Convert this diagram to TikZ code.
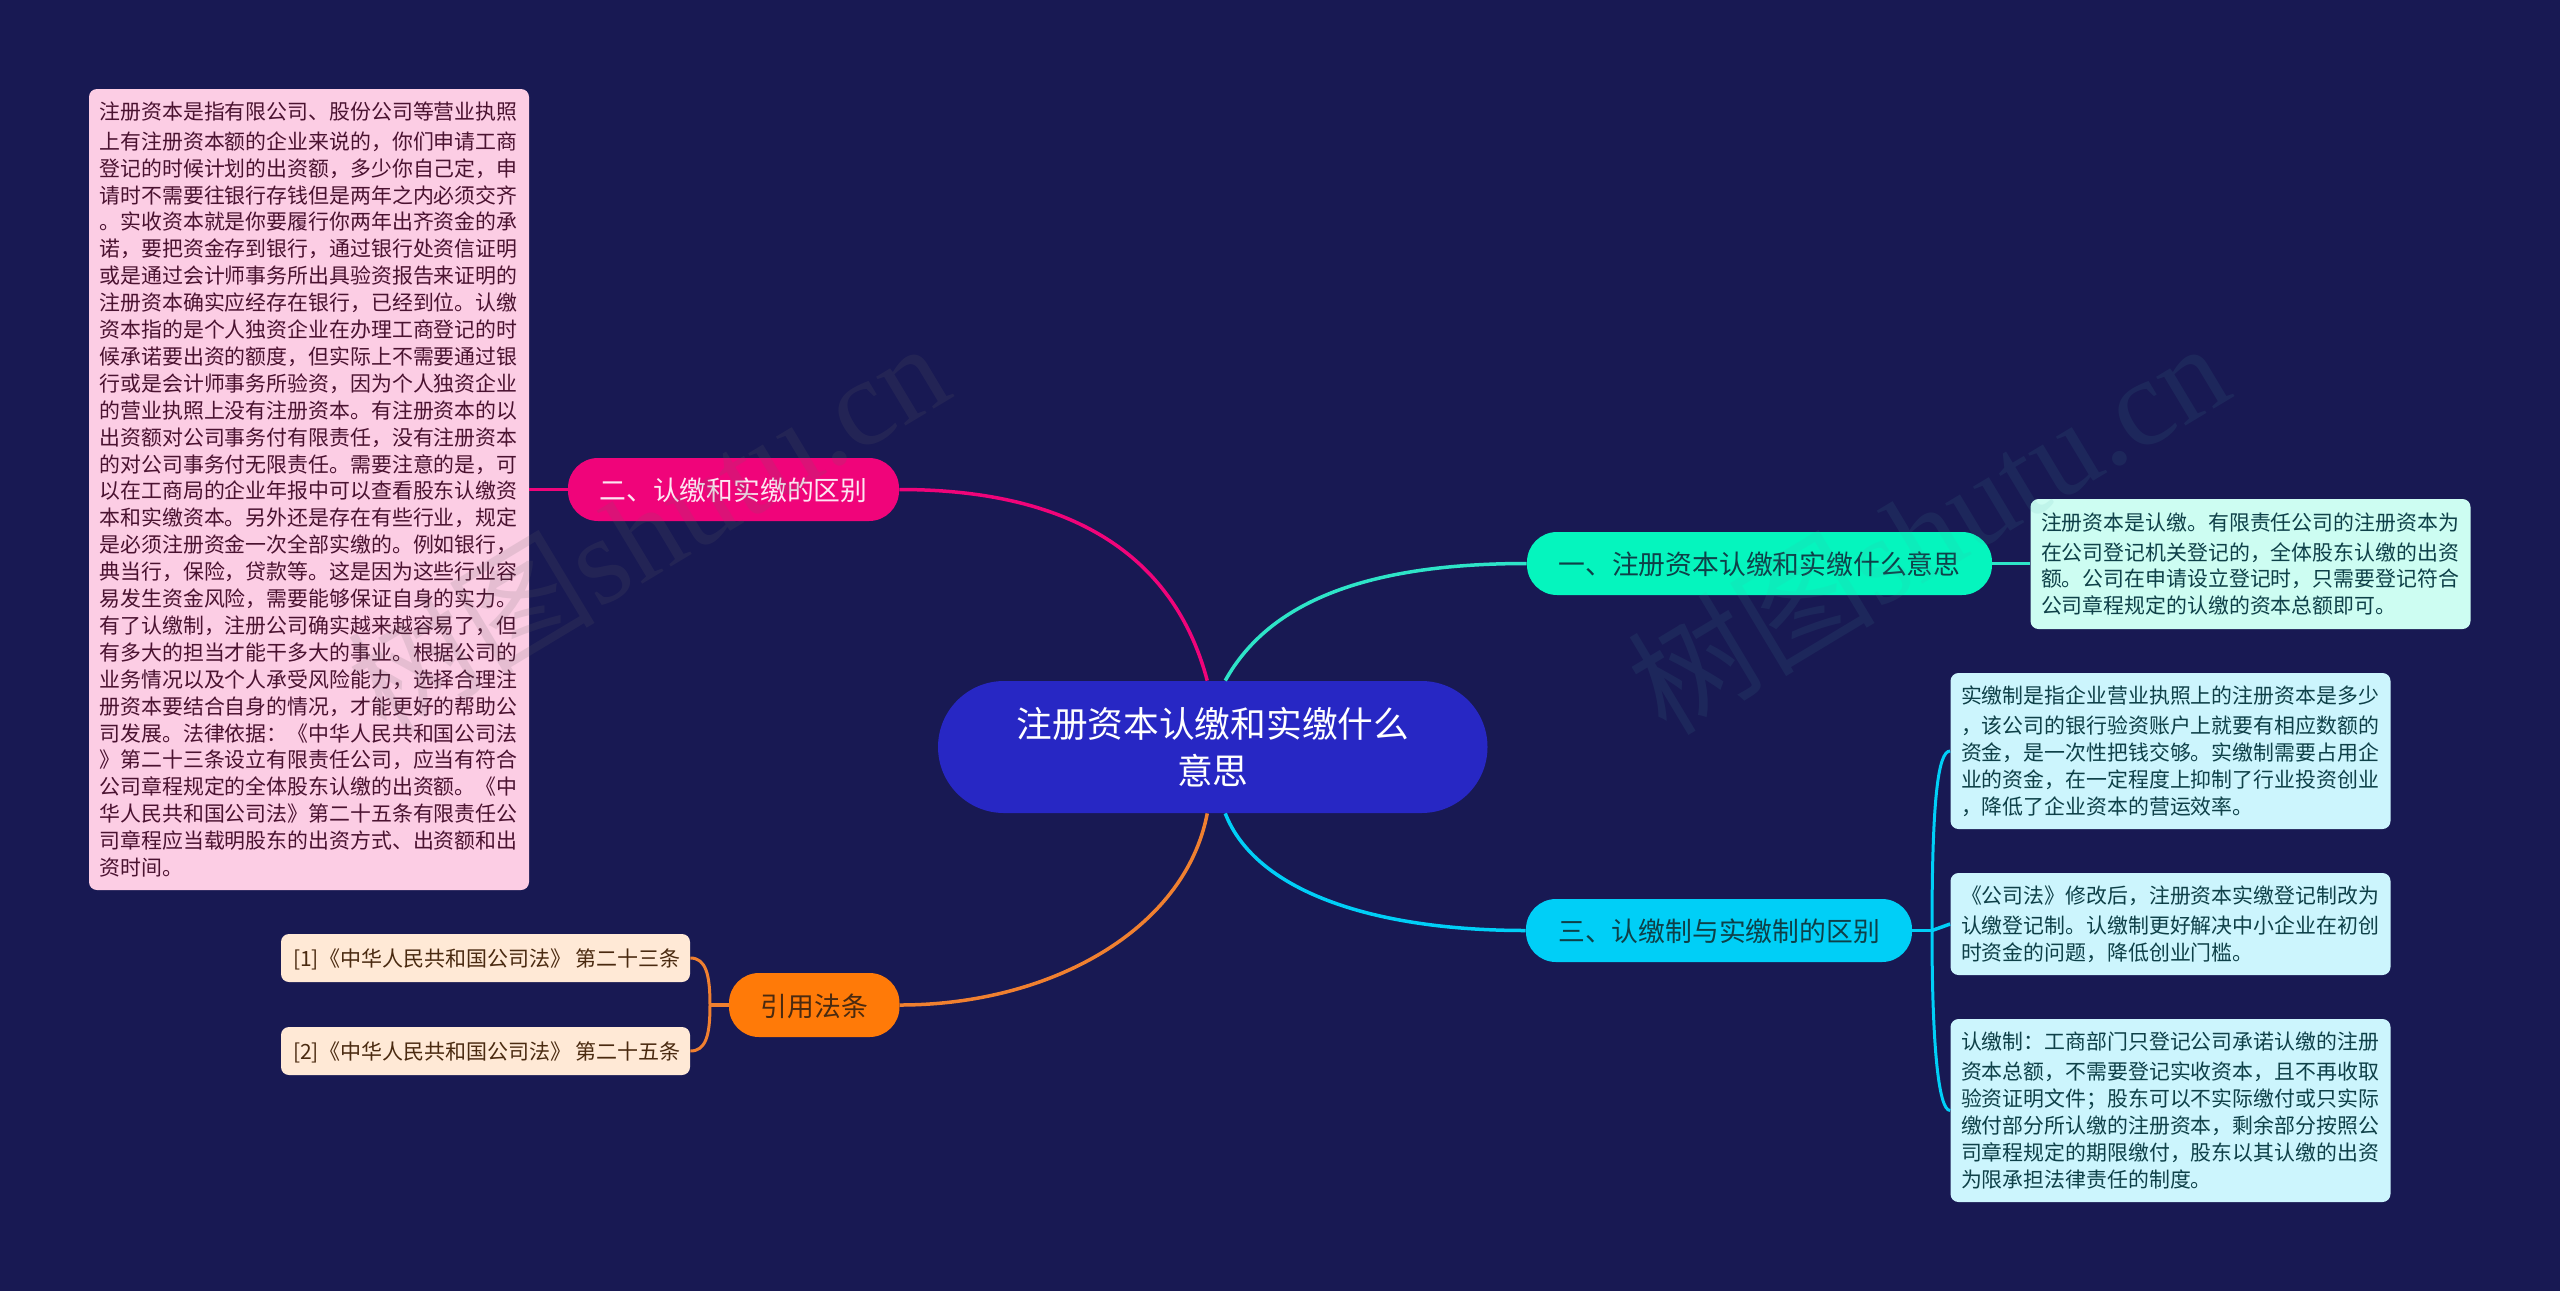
\documentclass[tikz,border=0pt]{standalone}
\usepackage{fontspec}
\setmainfont{Noto Sans CJK SC}
\newfontfamily\markfont{Liberation Serif}
\definecolor{bgcol}{HTML}{181953}
\definecolor{rootcol}{HTML}{2727C4}
\definecolor{pinkcol}{HTML}{F0047A}
\definecolor{greencol}{HTML}{05F5BE}
\definecolor{bluecol}{HTML}{00CFF7}
\definecolor{orangecol}{HTML}{FF7A08}
\definecolor{greenline}{HTML}{2EE4C8}
\definecolor{orangeline}{HTML}{F08030}
\definecolor{refcol}{HTML}{FFE9D6}
\definecolor{reftext}{HTML}{4A2A10}
\definecolor{pinktext}{HTML}{4A1230}
\definecolor{tealtext}{HTML}{0E4048}
\tikzset{
  rootnode/.style={fill=rootcol,text=white,align=center,inner sep=0,rounded corners=33pt,minimum width=274.75pt,minimum height=66pt,font=\fontsize{17.85}{23.5}\selectfont},
  branch/.style={rounded corners=15pt,inner sep=0,minimum height=31.5pt,text height=12pt,text depth=.8pt,font=\fontsize{13.4}{16}\selectfont},
  note/.style={rounded corners=4pt,inner xsep=5.25pt,inner ysep=0,text width=209.5pt,align=left,execute at begin node={\vspace*{1.5pt}},font=\fontsize{10.45}{13.45}\selectfont},
  refnote/.style={rounded corners=4pt,inner sep=0,fill=refcol,text=reftext,minimum width=204.5pt,minimum height=24pt,text height=9.4pt,text depth=1pt,font=\fontsize{10.5}{13.45}\selectfont},
  link/.style={line width=1.75pt},
  thinlink/.style={line width=1.5pt},
  markstyle/.style={font=\fontsize{62}{62}\selectfont,rotate=31,inner sep=0}
}
\begin{document}
\begin{tikzpicture}[x=.5pt,y=-.5pt]
\fill[bgcol] (0,0) rectangle (2560,1291);
\useasboundingbox (0,0) rectangle (2560,1291);

\node[rootnode] (rootNode) at (1212.75,747) {注册资本认缴和实缴什么\\意思};

\node[branch,fill=pinkcol,text=white!90!pinkcol,minimum width=165.5pt] (branchTwo) at (733.5,489.5) {二、认缴和实缴的区别};
\node[branch,fill=greencol,text=tealtext,minimum width=232.5pt] (branchOne) at (1759.5,563.5) {一、注册资本认缴和实缴什么意思};
\node[branch,fill=bluecol,text=tealtext,minimum width=193pt] (branchThree) at (1719,930.5) {三、认缴制与实缴制的区别};
\node[branch,fill=orangecol,text=reftext,minimum width=85.25pt,minimum height=32pt] (branchRef) at (814.25,1005) {引用法条};

\node[note,fill=pinkcol!20!white,text=pinktext,minimum height=400.5pt] (notePink) at (309,489.5) {注册资本是指有限公司、股份公司等营业执照\\上有注册资本额的企业来说的，你们申请工商\\登记的时候计划的出资额，多少你自己定，申\\请时不需要往银行存钱但是两年之内必须交齐\\。实收资本就是你要履行你两年出齐资金的承\\诺，要把资金存到银行，通过银行处资信证明\\或是通过会计师事务所出具验资报告来证明的\\注册资本确实应经存在银行，已经到位。认缴\\资本指的是个人独资企业在办理工商登记的时\\候承诺要出资的额度，但实际上不需要通过银\\行或是会计师事务所验资，因为个人独资企业\\的营业执照上没有注册资本。有注册资本的以\\出资额对公司事务付有限责任，没有注册资本\\的对公司事务付无限责任。需要注意的是，可\\以在工商局的企业年报中可以查看股东认缴资\\本和实缴资本。另外还是存在有些行业，规定\\是必须注册资金一次全部实缴的。例如银行，\\典当行，保险，贷款等。这是因为这些行业容\\易发生资金风险，需要能够保证自身的实力。\\有了认缴制，注册公司确实越来越容易了，但\\有多大的担当才能干多大的事业。根据公司的\\业务情况以及个人承受风险能力，选择合理注\\册资本要结合自身的情况，才能更好的帮助公\\司发展。法律依据：《中华人民共和国公司法\\》第二十三条设立有限责任公司，应当有符合\\公司章程规定的全体股东认缴的出资额。《中\\华人民共和国公司法》第二十五条有限责任公\\司章程应当载明股东的出资方式、出资额和出\\资时间。};

\node[note,fill=greencol!20!white,text=tealtext,minimum height=65pt] (noteOne) at (2250.5,564) {注册资本是认缴。有限责任公司的注册资本为\\在公司登记机关登记的，全体股东认缴的出资\\额。公司在申请设立登记时，只需要登记符合\\公司章程规定的认缴的资本总额即可。};

\node[note,fill=bluecol!20!white,text=tealtext,minimum height=78pt] (noteThreeA) at (2170.5,751) {实缴制是指企业营业执照上的注册资本是多少\\，该公司的银行验资账户上就要有相应数额的\\资金，是一次性把钱交够。实缴制需要占用企\\业的资金，在一定程度上抑制了行业投资创业\\，降低了企业资本的营运效率。};
\node[note,fill=bluecol!20!white,text=tealtext,minimum height=51pt] (noteThreeB) at (2170.5,924) {《公司法》修改后，注册资本实缴登记制改为\\认缴登记制。认缴制更好解决中小企业在初创\\时资金的问题，降低创业门槛。};
\node[note,fill=bluecol!20!white,text=tealtext,minimum height=91.5pt] (noteThreeC) at (2170.5,1110.5) {认缴制：工商部门只登记公司承诺认缴的注册\\资本总额，不需要登记实收资本，且不再收取\\验资证明文件；股东可以不实际缴付或只实际\\缴付部分所认缴的注册资本，剩余部分按照公\\司章程规定的期限缴付，股东以其认缴的出资\\为限承担法律责任的制度。};

\node[refnote] (refOne) at (485.5,958) {\hspace*{1.5pt}[1]《中华人民共和国公司法》 第二十三条};
\node[refnote] (refTwo) at (485.5,1051) {\hspace*{1.5pt}[2]《中华人民共和国公司法》 第二十五条};

% main branches
\draw[link,pinkcol] ([xshift=-2.75pt]rootNode.north) .. controls (1178,570) and (1090,489.5) .. (branchTwo.east);
\draw[link,greenline] ([xshift=6.25pt]rootNode.north) .. controls (1270,600) and (1370,563.5) .. (branchOne.west);
\draw[link,bluecol] ([xshift=6.25pt]rootNode.south) .. controls (1255,890) and (1370,930.5) .. (branchThree.west);
\draw[link,orangeline] ([xshift=-2.75pt]rootNode.south) .. controls (1185,930) and (1050,1005) .. (branchRef.east);

% leaves
\coordinate (spineThree) at (1932,930.5);
\coordinate (spineRef) at (710,1005);
\draw[link,pinkcol] (branchTwo.west) -- (notePink.east |- branchTwo.west);
\draw[link,greenline] (branchOne.east) -- (noteOne.west |- branchOne.east);
\draw[link,bluecol] (branchThree.east) -- (spineThree);
\draw[thinlink,bluecol] (spineThree) .. controls (1932,800) and (1938,751) .. (noteThreeA.west);
\draw[thinlink,bluecol] (spineThree) .. controls (1932,1040) and (1938,1110.5) .. (noteThreeC.west);
\draw[link,bluecol] (spineThree) -- (noteThreeB.west);
\draw[link,orangeline] (branchRef.west) -- (spineRef);
\draw[thinlink,orangeline] (spineRef) .. controls (710,975) and (706,958) .. (refOne.east);
\draw[thinlink,orangeline] (spineRef) .. controls (710,1035) and (706,1051) .. (refTwo.east);

% watermark
\node[markstyle,opacity=.15,text=gray!80!black] (markLeft) at (647,526) {树图{\markfont shutu.cn}};
\node[markstyle,opacity=.1,text=teal!70!white] (markRight) at (1927,526) {树图{\markfont shutu.cn}};
\end{tikzpicture}
\end{document}
